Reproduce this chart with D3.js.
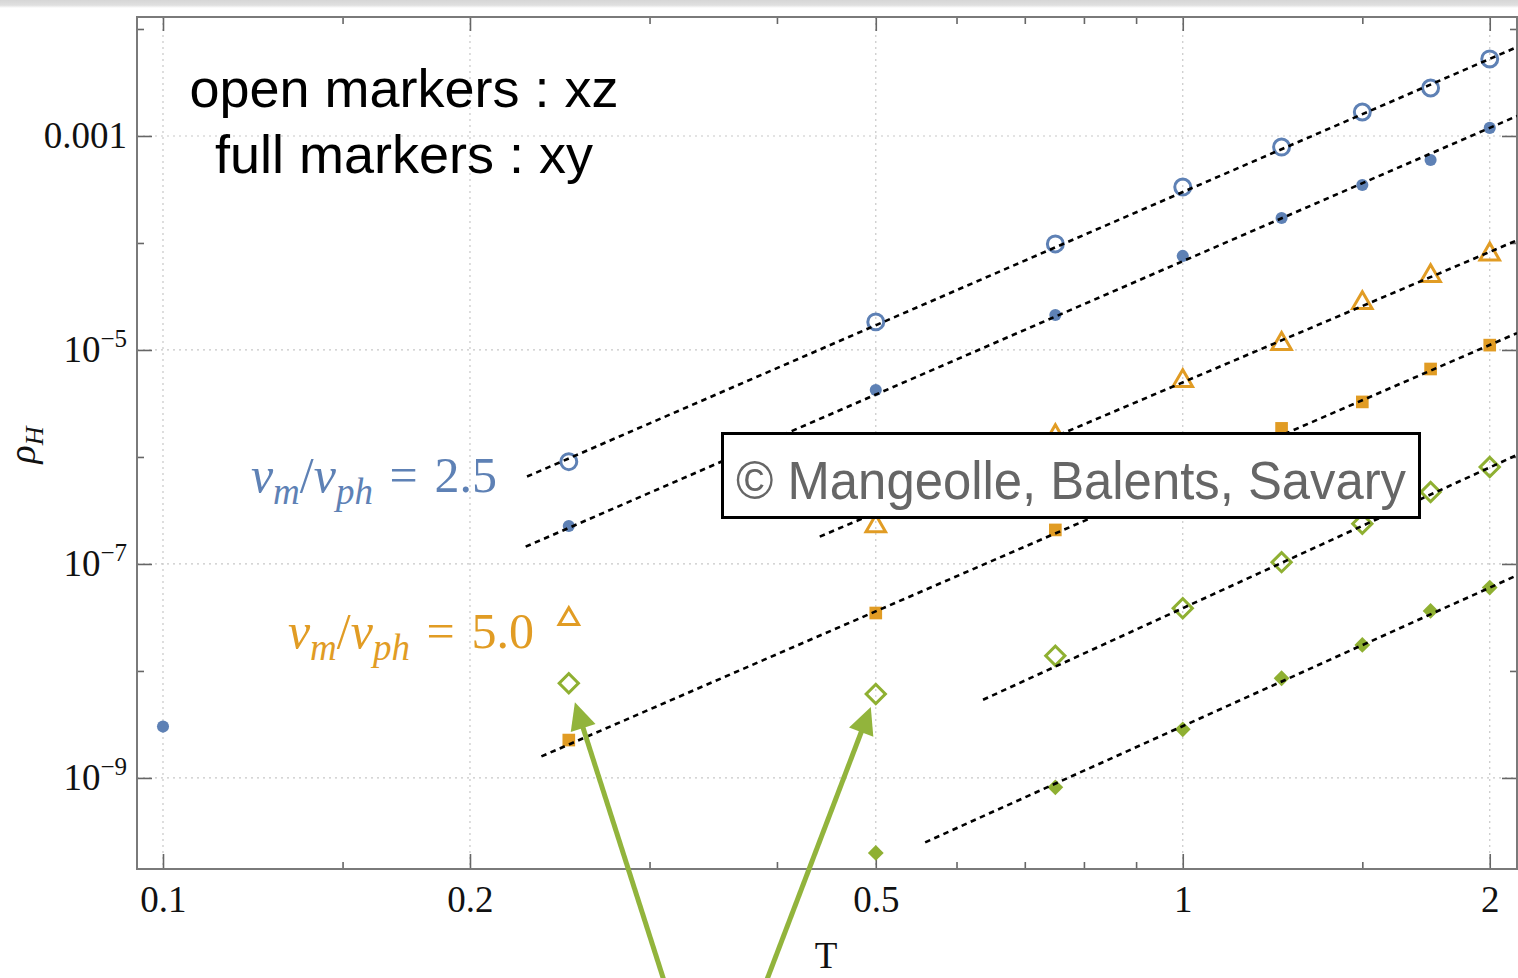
<!DOCTYPE html>
<html>
<head>
<meta charset="utf-8">
<script src="https://cdn.jsdelivr.net/npm/d3@7"></script>
<style>
body { margin: 0; background: #fff; }
svg { display: block; }
</style>
</head>
<body>
<div id="chart"></div>
<script>
// temperatures at which the transport was computed
var temps = [0.25, 0.5, 0.75, 1, 1.25, 1.5, 1.75, 2];
var tempsBlueFull = [0.1, 0.25, 0.5, 0.75, 1, 1.25, 1.5, 1.75, 2];
var tempsGreenFull = [0.5, 0.75, 1, 1.25, 1.5, 1.75, 2];

// rho_H values
var blueOpen = [9.04e-7, 1.83e-5, 9.8e-5, 3.33e-4, 7.88e-4, 1.675e-3, 2.81e-3, 5.25e-3];
var blueFull = [3.02e-9, 2.26e-7, 4.23e-6, 2.12e-5, 7.57e-5, 1.71e-4, 3.48e-4, 5.97e-4, 1.19e-3];
var orangeOpen = [3.06e-8, 2.26e-7, 1.57e-6, 5.13e-6, 1.14e-5, 2.75e-5, 4.92e-5, 7.83e-5];
var orangeFull = [2.26e-9, 3.48e-8, 2.08e-7, 6.37e-7, 1.85e-6, 3.27e-6, 6.64e-6, 1.11e-5];
var greenOpen = [7.67e-9, 6.10e-9, 1.39e-8, 3.85e-8, 1.04e-7, 2.37e-7, 4.71e-7, 8.07e-7];
var greenFull = [1.99e-10, 8.18e-10, 2.85e-9, 8.55e-9, 1.75e-8, 3.64e-8, 6.01e-8];

// dashed power-law fits: rho = amp * T^exp, drawn from fitStart to the right edge
var fitStart = [0.2275, 0.2268, 0.4406, 0.235, 0.637, 0.559];
var fitAmp = [2.99e-4, 6.75e-5, 4.98e-6, 6.34e-7, 3.86e-8, 3.05e-9];
var fitExp = [4.135, 4.14, 4.05, 4.135, 4.37, 4.30];

// axes
var xMajor = [0.1, 0.2, 0.5, 1, 2];
var xTickLabels = ['0.1', '0.2', '0.5', '1', '2'];
var xMinor = [0.15, 0.3, 0.4, 0.6, 0.7, 0.8, 0.9, 1.5];
var yMajor = [1e-3, 1e-5, 1e-7, 1e-9];
var yTickExps = [-3, -5, -7, -9];
var yMinor = [1e-2, 1e-4, 1e-6, 1e-8];

var ratios = ['2.5', '5.0'];

var W = 1518, H = 978;
var frame = {left: 137, right: 1517, top: 17, bottom: 869};
var serif = '"Liberation Serif", "DejaVu Serif", serif';
var sans = '"Liberation Sans", Arial, Helvetica, sans-serif';

var blue = '#5E81B5', orange = '#E19C24', green = '#8FB032', arrowGreen = '#92B43C';

var x = d3.scaleLog().domain([0.0943, 2.127]).range([frame.left, frame.right]);
var y = d3.scaleLog().domain([Math.pow(10, -9.851), Math.pow(10, -1.888)]).range([frame.bottom, frame.top]);

var svg = d3.select('#chart').append('svg')
	.attr('width', W)
	.attr('height', H);

svg.append('rect').attr('width', W).attr('height', H).attr('fill', '#fff');

// window shade at the very top
var defs = svg.append('defs');
var grad = defs.append('linearGradient').attr('id', 'topShade')
	.attr('x1', 0).attr('y1', 0).attr('x2', 0).attr('y2', 1);
grad.append('stop').attr('offset', '0%').attr('stop-color', '#d6d6d6');
grad.append('stop').attr('offset', '65%').attr('stop-color', '#e0e0e0');
grad.append('stop').attr('offset', '100%').attr('stop-color', '#ffffff');
svg.append('rect').attr('x', 0).attr('y', 0).attr('width', W).attr('height', 8)
	.attr('fill', 'url(#topShade)');

defs.append('clipPath').attr('id', 'plotClip')
	.append('rect')
	.attr('x', frame.left).attr('y', frame.top)
	.attr('width', frame.right - frame.left)
	.attr('height', frame.bottom - frame.top);

// grid
var grid = svg.append('g')
	.attr('stroke', '#c8c8c8')
	.attr('stroke-width', 1.2)
	.attr('stroke-dasharray', '2,4');
grid.selectAll('line.gx').data(xMajor).enter().append('line')
	.attr('x1', function(d) { return x(d); })
	.attr('x2', function(d) { return x(d); })
	.attr('y1', frame.top).attr('y2', frame.bottom);
grid.selectAll('line.gy').data(yMajor).enter().append('line')
	.attr('y1', function(d) { return y(d); })
	.attr('y2', function(d) { return y(d); })
	.attr('x1', frame.left).attr('x2', frame.right);

// axes (ticks pointing inward, on all four sides)
function styleAxis(g) {
	g.select('.domain').remove();
	g.selectAll('.tick line').attr('stroke', '#666').attr('stroke-width', 1.6);
	g.attr('font-family', serif).attr('font-size', 37).attr('color', '#111');
}

svg.append('g').attr('transform', 'translate(0,' + frame.bottom + ')')
	.call(d3.axisBottom(x).tickValues(xMajor).tickSize(-15).tickPadding(17)
		.tickFormat(function(d, i) { return xTickLabels[i]; }))
	.call(styleAxis);
svg.append('g').attr('transform', 'translate(0,' + frame.bottom + ')')
	.call(d3.axisBottom(x).tickValues(xMinor).tickSize(-7).tickFormat(''))
	.call(styleAxis);
svg.append('g').attr('transform', 'translate(0,' + frame.top + ')')
	.call(d3.axisTop(x).tickValues(xMajor).tickSize(-14).tickFormat(''))
	.call(styleAxis);
svg.append('g').attr('transform', 'translate(0,' + frame.top + ')')
	.call(d3.axisTop(x).tickValues(xMinor).tickSize(-7).tickFormat(''))
	.call(styleAxis);

var yAxisG = svg.append('g').attr('transform', 'translate(' + frame.left + ',0)')
	.call(d3.axisLeft(y).tickValues(yMajor).tickSize(-15).tickPadding(10)
		.tickFormat(function(d, i) { return yTickExps[i] === -3 ? '0.001' : ''; }))
	.call(styleAxis);
yAxisG.selectAll('.tick text').each(function(d, i) {
	var e = yTickExps[i];
	if (e === -3)
		return;
	var t = d3.select(this);
	t.append('tspan').text('10');
	t.append('tspan').attr('font-size', 25).attr('dy', -15).text('\u2212' + Math.abs(e));
});
svg.append('g').attr('transform', 'translate(' + frame.left + ',0)')
	.call(d3.axisLeft(y).tickValues(yMinor).tickSize(-7).tickFormat(''))
	.call(styleAxis);
svg.append('g').attr('transform', 'translate(' + frame.right + ',0)')
	.call(d3.axisRight(y).tickValues(yMajor).tickSize(-15).tickFormat(''))
	.call(styleAxis);
svg.append('g').attr('transform', 'translate(' + frame.right + ',0)')
	.call(d3.axisRight(y).tickValues(yMinor).tickSize(-7).tickFormat(''))
	.call(styleAxis);

// frame
svg.append('rect')
	.attr('x', frame.left).attr('y', frame.top)
	.attr('width', frame.right - frame.left)
	.attr('height', frame.bottom - frame.top)
	.attr('fill', 'none').attr('stroke', '#7a7a7a').attr('stroke-width', 2);

// data markers
var series = [
	{T: temps, v: blueOpen, color: blue, type: d3.symbolCircle, size: 200, open: true},
	{T: tempsBlueFull, v: blueFull, color: blue, type: d3.symbolCircle, size: 115, open: false},
	{T: temps, v: orangeOpen, color: orange, type: d3.symbolTriangle, size: 165, open: true},
	{T: temps, v: orangeFull, color: orange, type: d3.symbolSquare, size: 160, open: false},
	{T: temps, v: greenOpen, color: green, type: d3.symbolSquare, size: 185, open: true, rotate: 45},
	{T: tempsGreenFull, v: greenFull, color: green, type: d3.symbolSquare, size: 125, open: false, rotate: 45}
];

var markers = svg.append('g').attr('clip-path', 'url(#plotClip)');
series.forEach(function(s) {
	var sym = d3.symbol().type(s.type).size(s.size);
	markers.append('g').selectAll('path')
		.data(s.T.map(function(t, i) { return [t, s.v[i]]; }))
		.enter().append('path')
		.attr('d', sym)
		.attr('transform', function(d) {
			return 'translate(' + x(d[0]) + ',' + y(d[1]) + ')' + (s.rotate ? ' rotate(' + s.rotate + ')' : '');
		})
		.attr('fill', s.open ? 'none' : s.color)
		.attr('stroke', s.open ? s.color : 'none')
		.attr('stroke-width', 3);
});

// fit lines
var tEnd = x.domain()[1];
var fits = svg.append('g').attr('clip-path', 'url(#plotClip)');
fitStart.forEach(function(t0, i) {
	var f = function(t) { return fitAmp[i] * Math.pow(t, fitExp[i]); };
	fits.append('line')
		.attr('x1', x(t0)).attr('y1', y(f(t0)))
		.attr('x2', x(tEnd)).attr('y2', y(f(tEnd)))
		.attr('stroke', '#000')
		.attr('stroke-width', 2.6)
		.attr('stroke-dasharray', '5.5,4.5');
});

// axis titles
svg.append('text')
	.attr('x', 826).attr('y', 968)
	.attr('text-anchor', 'middle')
	.attr('font-family', serif).attr('font-size', 37).attr('fill', '#111')
	.text('T');

var yTitle = svg.append('text')
	.attr('transform', 'translate(35,445) rotate(-90)')
	.attr('text-anchor', 'middle')
	.attr('font-family', serif).attr('font-size', 38).attr('font-style', 'italic').attr('fill', '#111');
yTitle.append('tspan').text('\u03C1');
yTitle.append('tspan').attr('font-size', 26).attr('dy', 8).text('H');

// marker legend text
var legend = svg.append('text')
	.attr('font-family', sans).attr('font-size', 54).attr('fill', '#000')
	.attr('text-anchor', 'middle');
legend.append('tspan').attr('x', 404).attr('y', 107).text('open markers : xz');
legend.append('tspan').attr('x', 404).attr('y', 173).text('full markers : xy');

// velocity ratio labels
function ratioLabel(xEnd, yBase, value, color) {
	var t = svg.append('text')
		.attr('x', xEnd).attr('y', yBase)
		.attr('text-anchor', 'end')
		.attr('font-family', serif).attr('font-size', 50).attr('fill', color);
	t.append('tspan').attr('font-style', 'italic').text('v');
	t.append('tspan').attr('font-style', 'italic').attr('font-size', 37).attr('dy', 12).text('m');
	t.append('tspan').attr('dy', -12).text('/');
	t.append('tspan').attr('font-style', 'italic').text('v');
	t.append('tspan').attr('font-style', 'italic').attr('font-size', 37).attr('dy', 12).text('ph');
	t.append('tspan').attr('dy', -12).text('\u2004=\u2004' + value);
}
ratioLabel(497, 492, ratios[0], blue);
ratioLabel(534, 648, ratios[1], orange);

// copyright box
svg.append('rect')
	.attr('x', 722.5).attr('y', 433.5).attr('width', 697).attr('height', 84)
	.attr('fill', '#fff').attr('stroke', '#000').attr('stroke-width', 3);
svg.append('text')
	.attr('x', 736).attr('y', 499)
	.attr('font-family', sans).attr('font-size', 53).attr('fill', '#666')
	.attr('textLength', 670).attr('lengthAdjust', 'spacingAndGlyphs')
	.text('\u00A9 Mangeolle, Balents, Savary');

// arrows pointing at the two low-T open green diamonds
var arrowTargets = [{t: temps[0], v: greenOpen[0], tail: [667, 990], gap: 20},
	{t: temps[1], v: greenOpen[1], tail: [763, 990], gap: 14}];
arrowTargets.forEach(function(a) {
	var px = x(a.t), py = y(a.v);
	var dx = px - a.tail[0], dy = py - a.tail[1];
	var len = Math.sqrt(dx * dx + dy * dy);
	var ux = dx / len, uy = dy / len;
	var tipX = px - ux * a.gap, tipY = py - uy * a.gap;
	var headL = 27, headW = 13;
	var bx = tipX - ux * headL, by = tipY - uy * headL;
	svg.append('line')
		.attr('x1', a.tail[0]).attr('y1', a.tail[1])
		.attr('x2', bx + ux * 4).attr('y2', by + uy * 4)
		.attr('stroke', arrowGreen).attr('stroke-width', 5);
	svg.append('path')
		.attr('d', 'M' + tipX + ',' + tipY +
			'L' + (bx - uy * headW) + ',' + (by + ux * headW) +
			'L' + (bx + uy * headW) + ',' + (by - ux * headW) + 'Z')
		.attr('fill', arrowGreen);
});
</script>
</body>
</html>
